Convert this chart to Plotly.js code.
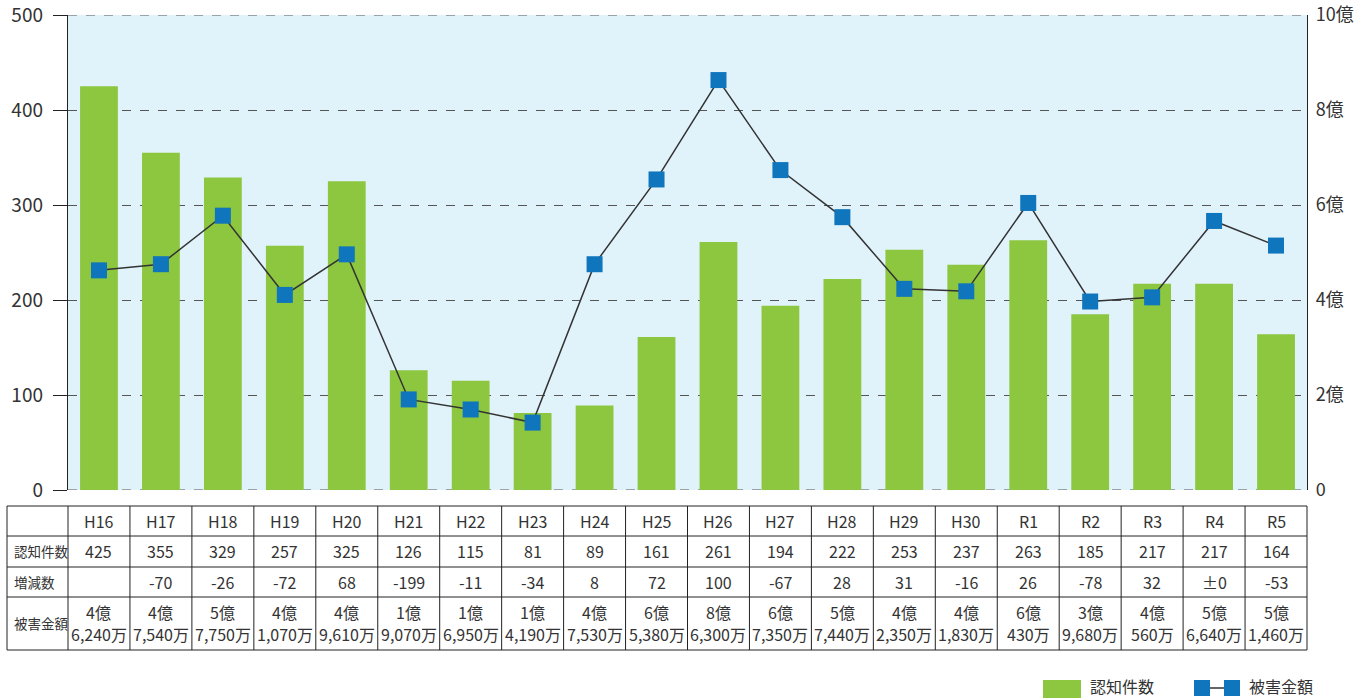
<!DOCTYPE html>
<html>
<head>
<meta charset="utf-8">
<script src="https://cdn.plot.ly/plotly-3.0.1.min.js"></script>
<style>html,body{margin:0;padding:0;background:#fff;}#chart{width:1371px;height:698px;}</style>
</head>
<body>
<div id="chart"></div>
<script>
const years = ['H16','H17','H18','H19','H20','H21','H22','H23','H24','H25','H26','H27','H28','H29','H30','R1','R2','R3','R4','R5'];
const counts = [425,355,329,257,325,126,115,81,89,161,261,194,222,253,237,263,185,217,217,164];
const changes = ['','-70','-26','-72','68','-199','-11','-34','8','72','100','-67','28','31','-16','26','-78','32','±0','-53'];
const damageOku = [4,4,5,4,4,1,1,1,4,6,8,6,5,4,4,6,3,4,5,5];
const damageMan = [6240,7540,7750,1070,9610,9070,6950,4190,7530,5380,6300,7350,7440,2350,1830,430,9680,560,6640,1460];
const rowLabels = ['認知件数','増減数','被害金額'];
const leftTickVals = [0,100,200,300,400,500];
const rightTickVals = [0,2,4,6,8,10];
const rightTickText = ['0','2億','4億','6億','8億','10億'];

const damage = damageOku.map((o,i)=> o + damageMan[i]/10000);
const manText = damageMan.map(m => m.toLocaleString('en-US') + '万');

const FONT = '"Noto Sans CJK JP", "Noto Sans", sans-serif';
const W = 1371, H = 698, ML = 68, MR = 64, MT = 15, MB = 208;
const PW = W - ML - MR, PH = H - MT - MB;
const px = x => (x - ML) / PW;
const py = y => (H - MB - y) / PH;

const n = years.length;
const shapes = [];
const annotations = [];
// dashed top and bottom borders of plot area
[0, 500].forEach(v => shapes.push({type:'line', xref:'paper', yref:'y', x0:0, x1:1, y0:v, y1:v, layer:'below', line:{color:'#555', width:1.2, dash:'dash'}}));

const tableRows = [506, 536, 567, 597, 650];
const tableLeft = 7;
tableRows.forEach(y => shapes.push({type:'line', xref:'paper', yref:'paper', x0:px(tableLeft), x1:1, y0:py(y), y1:py(y), line:{color:'#222', width:1}}));
shapes.push({type:'line', xref:'paper', yref:'paper', x0:px(tableLeft), x1:px(tableLeft), y0:py(506), y1:py(650), line:{color:'#222', width:1}});
for (let i = 0; i <= n; i++) {
  shapes.push({type:'line', xref:'paper', yref:'paper', x0:i/n, x1:i/n, y0:py(506), y1:py(650), line:{color:'#222', width:1}});
}
const cellFont = {family: FONT, size: 16, color: '#333'};
years.forEach((yr, i) => {
  annotations.push({xref:'x', yref:'paper', x:i, y:py(521), text:yr, showarrow:false, font:cellFont, xanchor:'center', yanchor:'middle'});
  annotations.push({xref:'x', yref:'paper', x:i, y:py(551), text:String(counts[i]), showarrow:false, font:cellFont, xanchor:'center', yanchor:'middle'});
  annotations.push({xref:'x', yref:'paper', x:i, y:py(582), text:changes[i], showarrow:false, font:cellFont, xanchor:'center', yanchor:'middle'});
  annotations.push({xref:'x', yref:'paper', x:i, y:py(612), text:damageOku[i] + '億', showarrow:false, font:cellFont, xanchor:'center', yanchor:'middle'});
  annotations.push({xref:'x', yref:'paper', x:i, y:py(634), text:manText[i], showarrow:false, font:cellFont, xanchor:'center', yanchor:'middle'});
});
const labelFont = {family: FONT, size: 13.5, color: '#333'};
[[rowLabels[0],551],[rowLabels[1],582],[rowLabels[2],623]].forEach(([t,y]) => {
  annotations.push({xref:'paper', yref:'paper', x:px(12), y:py(y), text:t, showarrow:false, font:labelFont, xanchor:'left', yanchor:'middle'});
});

// legend
shapes.push({type:'rect', xref:'paper', yref:'paper', x0:px(1043), x1:px(1081), y0:py(680), y1:py(698), fillcolor:'#8dc63f', line:{width:0}});
annotations.push({xref:'paper', yref:'paper', x:px(1088), y:py(686), text:'認知件数', showarrow:false, font:{family:FONT, size:16, color:'#333'}, xanchor:'left', yanchor:'middle'});
shapes.push({type:'line', xref:'paper', yref:'paper', x0:px(1202), x1:px(1232), y0:py(688), y1:py(688), line:{color:'#333', width:1.5}});
shapes.push({type:'rect', xref:'paper', yref:'paper', x0:px(1194), x1:px(1210), y0:py(680), y1:py(696), fillcolor:'#0f75bc', line:{width:0}});
shapes.push({type:'rect', xref:'paper', yref:'paper', x0:px(1224), x1:px(1240), y0:py(680), y1:py(696), fillcolor:'#0f75bc', line:{width:0}});
annotations.push({xref:'paper', yref:'paper', x:px(1247), y:py(686), text:'被害金額', showarrow:false, font:{family:FONT, size:16, color:'#333'}, xanchor:'left', yanchor:'middle'});

const traces = [
  {type:'bar', x:years, y:counts, name:'認知件数', marker:{color:'#8dc63f'}, width:0.61, hoverinfo:'x+y'},
  {type:'scatter', mode:'lines+markers', x:years, y:damage, yaxis:'y2', name:'被害金額',
   line:{color:'#333', width:1.5}, marker:{symbol:'square', size:16, color:'#0f75bc'}}
];

const layout = {
  width: W, height: H,
  margin: {l:ML, r:MR, t:MT, b:MB, pad:0},
  paper_bgcolor: '#ffffff',
  plot_bgcolor: '#e0f2fa',
  showlegend: false,
  font: {family: FONT, color:'#333'},
  xaxis: {type:'category', range:[-0.5, n-0.5], showticklabels:false, ticks:'', showgrid:false, zeroline:false, showline:false, fixedrange:true},
  yaxis: {range:[0,500], tickmode:'array', tickvals:leftTickVals, showgrid:true, gridcolor:'#555', griddash:'dash', gridwidth:1,
          zeroline:false, showline:true, linecolor:'#222', linewidth:1.2, ticks:'outside', ticklen:14, tickcolor:'#222',
          tickfont:{family:FONT, size:19, color:'#333'}, ticklabelstandoff:6, ticklabeloverflow:'allow'},
  yaxis2: {overlaying:'y', side:'right', range:[0,10], tickmode:'array', tickvals:rightTickVals, ticktext:rightTickText, showgrid:false,
           zeroline:false, showline:true, linecolor:'#222', linewidth:1.2, ticks:'',
           tickfont:{family:FONT, size:18, color:'#333'}, ticklabelstandoff:4, ticklabeloverflow:'allow'},
  shapes: shapes,
  annotations: annotations
};

Plotly.newPlot('chart', traces, layout, {displayModeBar:false, staticPlot:true});
</script>
</body>
</html>
